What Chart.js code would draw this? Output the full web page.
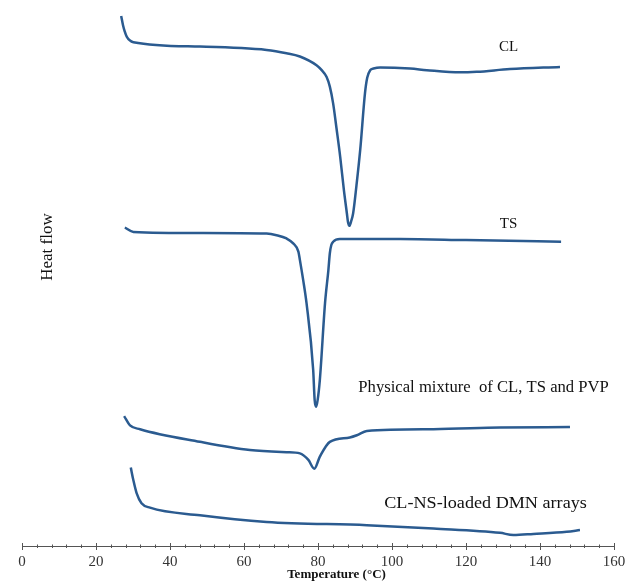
<!DOCTYPE html>
<html><head><meta charset="utf-8">
<script src="https://cdn.jsdelivr.net/npm/chart.js@4.4.1/dist/chart.umd.min.js"></script>
<style>html,body{margin:0;padding:0;background:#fff}#wrap{width:626px;height:585px}</style>
</head><body><div id="wrap"><canvas id="c" width="626" height="585"></canvas></div>
<script>
// Temperature (°C) and heat flow (arbitrary, offset) values
const clT = [26.8,27.3,27.8,28.3,30.1,48.1,66.1,71.5,75.1,79.6,81.0,82.3,83.2,84.1,85.0,86.0,87.0,87.8,88.1,88.5,88.9,89.5,90.4,91.4,92.7,93.3,94.1,95.0,96.8,104.9,109.4,118.4,122.9,131.9,145.4];
const clY = [97.1,95.4,94.2,93.3,92.3,91.5,90.9,90.3,89.7,88.1,87.2,86.0,84.2,81.1,76.6,71.4,65.3,61.1,59.5,58.8,59.5,61.1,66.2,72.6,83.0,85.8,87.2,87.5,87.7,87.5,87.2,86.8,86.9,87.4,87.8];
const tsT = [27.8,30.1,48.1,66.1,68.8,71.5,73.3,74.7,75.1,76.0,76.9,78.7,79.1,79.5,79.9,80.5,81.9,82.8,83.2,83.6,84.1,85.9,102.2,120.0,145.7];
const tsY = [58.5,57.7,57.5,57.4,57.1,56.5,55.6,54.1,52.6,48.9,44.7,32.5,27.0,25.8,27.0,30.7,44.7,50.7,53.8,55.3,55.9,56.4,56.4,56.2,55.9];
const pmT = [27.6,29.2,31.9,48.1,61.6,71.5,75.1,77.4,79.0,80.5,83.2,88.6,90.5,93.2,111.2,129.2,148.1];
const pmY = [24.1,22.4,21.7,19.4,17.9,17.5,17.3,16.1,14.5,16.7,19.4,20.2,20.6,21.4,21.7,22.0,22.1];
const dmT = [29.4,30.1,31.0,32.3,34.6,48.1,66.1,93.2,111.2,129.2,132.8,138.2,147.2,150.8];
const dmY = [14.7,12.4,10.0,8.2,7.4,6.0,4.8,4.2,3.6,2.8,2.4,2.6,3.0,3.3];
const seriesNames = ["CL","TS","Physical mixture  of CL, TS and PVP","CL-NS-loaded DMN arrays"];
const xTicks = [0,20,40,60,80,100,120,140,160];
const xTitle = 'Temperature (°C)';
const yTitle = 'Heat flow';

const toPts = (xs, ys) => xs.map((x, i) => ({x, y: ys[i]}));
const LINE = '#2b5b90';
const SERIF = '"Liberation Serif","Times New Roman",serif';

// label anchor positions in data units, with font size and horizontal stretch
const labelPos = [
  {x: 131.5, y: 91.5, align: 'center', size: 15, sx: 1.0},
  {x: 131.5, y: 59.2, align: 'center', size: 15, sx: 1.0},
  {x: 90.9, y: 29.3, align: 'left', size: 16, sx: 1.04},
  {x: 97.9, y: 8.1, align: 'left', size: 16.5, sx: 1.1}
];

const annot = {
  id: 'annot',
  afterDatasetsDraw(chart) {
    const {ctx, scales: {x, y}, chartArea} = chart;
    ctx.save();
    ctx.fillStyle = '#111';
    ctx.textBaseline = 'middle';
    labelPos.forEach((p, i) => {
      ctx.save();
      ctx.font = p.size + 'px ' + SERIF;
      ctx.textAlign = p.align;
      ctx.translate(x.getPixelForValue(p.x), y.getPixelForValue(p.y));
      ctx.scale(p.sx, 1);
      ctx.fillText(seriesNames[i], 0, 0);
      ctx.restore();
    });
    // x-axis title (offset to the right like the original figure)
    ctx.font = 'bold 13px ' + SERIF;
    ctx.textAlign = 'center';
    ctx.fillText(xTitle, x.getPixelForValue(85.0), chartArea.bottom + 29);
    // y-axis title
    ctx.font = '17px ' + SERIF;
    ctx.translate(48, 247);
    ctx.rotate(-Math.PI / 2);
    ctx.fillText(yTitle, 0, 0);
    ctx.restore();
    // tick marks crossing the axis line
    ctx.save();
    ctx.strokeStyle = '#555';
    ctx.lineWidth = 1;
    const yb = chartArea.bottom;
    x.ticks.forEach(t => {
      const px = Math.round(x.getPixelForValue(t.value)) + 0.5;
      const major = t.value % 20 === 0;
      ctx.beginPath();
      ctx.moveTo(px, yb - (major ? 3 : 1.5));
      ctx.lineTo(px, yb + (major ? 4 : 2));
      ctx.stroke();
    });
    ctx.restore();
  }
};

const mk = (xs, ys) => ({
  data: toPts(xs, ys), borderColor: LINE, borderWidth: 2.5, pointRadius: 0,
  fill: false, cubicInterpolationMode: 'monotone', showLine: true
});

new Chart(document.getElementById('c'), {
  type: 'scatter',
  data: { datasets: [mk(clT, clY), mk(tsT, tsY), mk(pmT, pmY), mk(dmT, dmY)] },
  options: {
    responsive: false, animation: false, devicePixelRatio: 1,
    layout: { padding: { left: 22, right: 12, top: 0, bottom: 0 } },
    plugins: { legend: { display: false }, tooltip: { enabled: false } },
    scales: {
      x: {
        type: 'linear', min: 0, max: 160,
        afterFit: s => { s.height = 39; s.paddingLeft = 0; s.paddingRight = 0; },
        ticks: { stepSize: 4, autoSkip: false, maxRotation: 0, padding: 3,
          color: '#333', font: { family: SERIF, size: 15 },
          callback: v => xTicks.includes(v) ? String(v) : '' },
        grid: { display: true, drawOnChartArea: false, drawTicks: true, tickLength: 4, color: 'rgba(0,0,0,0)' },
        border: { display: true, color: '#555', width: 1 },
        title: { display: false }
      },
      y: { display: false, min: 0.4, max: 100 }
    }
  },
  plugins: [annot]
});
</script></body></html>
